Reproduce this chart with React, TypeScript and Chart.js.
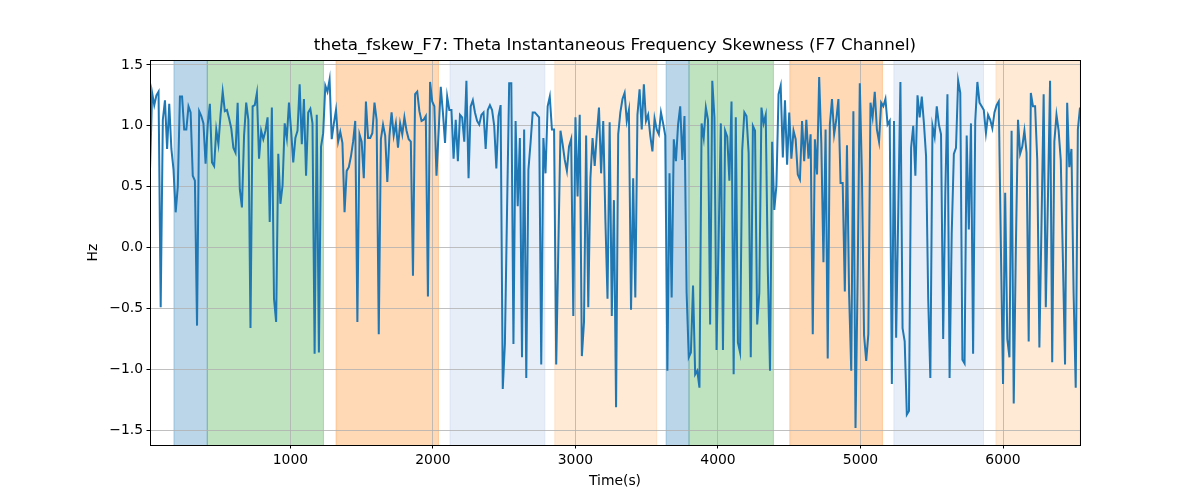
import { useEffect, useRef } from 'react';
import { Chart, registerables } from 'chart.js';

Chart.register(...registerables);

// skewness values, one every 15 s
const START_TIME = 15;
const STEP = 15;

const skewValues = [
  0.64, 1.27, 1.17, 1.25, 1.28, -0.49, 1.05, 1.21, 0.81, 1.18,
  0.81, 0.64, 0.29, 0.5, 1.24, 1.24, 0.97, 0.97, 1.16, 1.11,
  0.59, 0.55, -0.64, 1.12, 1.08, 1.02, 0.69, 1.01, 1.18, 0.7,
  0.67, 0.97, 0.85, 1.09, 1.28, 1.12, 1.13, 1.06, 0.98, 0.82,
  0.78, 1.19, 0.48, 0.33, 0.92, 1.19, 1.05, -0.66, 1.16, 1.17,
  1.27, 0.73, 0.96, 0.89, 0.96, 1.07, 0.21, 1.15, -0.42,
  -0.61, 0.77, 0.36, 0.51, 1.02, 0.9, 1.19, 0.96, 0.7, 0.9,
  0.96, 1.34, 0.85, 1.22, 0.59, 1.11, 1.14, 1.02, -0.87, 1.09,
  -0.86, 0.83, 0.94, 1.33, 1.28, 1.38, 0.89, 1.02, 1.13, 0.87,
  0.95, 0.86, 0.29, 0.63, 0.66, 0.75, 0.87, 1.04, -0.61, 0.93,
  0.87, 0.57, 1.2, 0.9, 0.9, 0.94, 1.19, 1.05, -0.71, 0.89,
  1.01, 0.92, 0.54, 0.92, 1.11, 0.92, 1.02,
  0.82, 1.02, 0.93, 1.07, 0.96, 0.89, 0.87, -0.23, 1.26, 1.28,
  1.12, 1.04, 1.05, 1.08, -0.4, 1.36, 1.2, 1.16, 0.59, 0.95,
  1.32, 1.11, 0.86, 1.24, 1.13, 1.13, 0.73, 1.05, 0.71, 1.09,
  1.07, 0.87, 1.37, 0.57, 1.16, 1.21, 1.11, 1.04, 1.01, 1.09,
  1.11, 0.81, 1.13, 1.17, 1.13, 1.0, 0.65, 1.08, 1.17, -1.16,
  -0.79, 0.3, 1.35, 1.35, -0.79, 1.04,
  0.34, 0.9, -0.9, 0.97, -1.07, 0.64, 0.86, 1.11, 1.11, 1.09,
  1.07, -0.96, 0.9, 0.61, 1.16, 1.24, 0.97, 0.97, -0.96, 0.0,
  0.96, 0.85, 0.72, 0.63, 0.83, 0.89, -0.56, 1.07, 0.42, 1.09,
  -0.89, -0.61, 0.92, -0.49, 0.57, 0.9, 0.67, 0.93, 1.15, 0.61,
  1.04, 0.23, -0.42, 1.03, -0.56, 0.39, -1.31, 0.93, 1.11, 1.22,
  1.27, 1.04, 1.13, -0.51, 0.57, -0.41,
  1.09, 1.3, 0.97, 1.34, 1.04, 1.09, 0.92, 0.79, 1.06, 0.97,
  0.93, 1.11, 1.02, 0.92, -1.01, 0.61, -0.41, 0.89, 0.71, 1.01,
  1.16, 0.72, 1.08, -0.37, -0.9, -0.86, -0.31, -1.04, -1.01, -1.15,
  1.02, 0.9, 1.15, 1.05, -0.63, 1.37, 1.07, -0.84, 0.1, 1.02,
  -0.84, 0.96, 0.91, 0.55, 1.2, -1.04, 1.07, -0.78, -0.86, 0.8,
  1.11, 1.08, 0.78, -0.9, 1.0,
  0.96, -0.63, -0.37, 1.15, 1.02, 1.09, -0.2, -1.01, 0.87, 0.31,
  0.51, 1.26, 1.33, 0.74, 1.21, 0.68, 1.11, 0.73, 0.96, 0.89,
  0.6, 0.56, 1.04, 0.71, 1.05, 0.73, 0.93, -0.71, 0.89, 0.6,
  1.4, 0.86, -0.12, 0.97, -0.91, 1.01, 1.22, 0.93, 1.05, 1.22,
  0.53, 0.53, -0.36, 0.84, -0.38, -1.01, 1.12, -1.48, -0.23, 1.35,
  0.6, -0.72, -0.93, -0.71, 1.19, 1.07,
  1.28, 0.97, 0.87, 1.19, 1.16, 1.22, 1.01, 1.04, -1.12, 1.04,
  -0.74, 0.3, 1.36, -0.66, -0.77, -1.37, -1.34, 0.82, 1.0, 0.59,
  1.25, 1.07, 1.24, 1.02, 0.75, -0.42, -1.07, 1.0, 0.91, 1.16,
  1.01, 0.93, -0.75, 0.45, 1.26, -1.07, 0.12, 0.77, 0.82, 1.37,
  1.27, -0.92, -0.95, 0.92, 0.15, 1.02, -0.87, 1.04, 1.36, 1.19,
  1.16, 1.13, 0.94, 1.09, 1.05, 0.98,
  1.11, 1.17, 1.2, 0.0, -1.12, 0.45, -0.75, -0.9, 0.96, -1.28,
  0.0, 1.05, 0.77, 0.83, 0.96, 0.78, -0.77, 1.27, 1.16, 1.16,
  0.72, -0.82, 0.2, 1.26, -0.49, 0.4, 1.37, -0.94, 0.87, 1.09,
  0.96, 0.72, -0.1, -0.96, 1.19, 0.66, 0.81, -0.37, -1.15, 0.97,
  1.15,
];

const times = skewValues.map((_, i) => START_TIME + i * STEP);

const xTicks = [1000, 2000, 3000, 4000, 5000, 6000];
const yTicks = [-1.5, -1.0, -0.5, 0.0, 0.5, 1.0, 1.5];

// shaded stages
const spanStarts = [183, 417, 1320, 2120, 2855, 3636, 3797, 4504, 5234, 5950];
const spanEnds = [417, 1232, 2039, 2785, 3570, 3797, 4389, 5154, 5863, 6540];
const spanColors = [
  'rgba(31,119,180,0.3)',
  'rgba(44,160,44,0.3)',
  'rgba(255,127,14,0.3)',
  'rgba(174,199,232,0.3)',
  'rgba(255,187,120,0.3)',
  'rgba(31,119,180,0.3)',
  'rgba(44,160,44,0.3)',
  'rgba(255,127,14,0.3)',
  'rgba(174,199,232,0.3)',
  'rgba(255,187,120,0.3)',
];

const FONT = 'DejaVu Sans';

const spanPlugin = {
  id: 'spans',
  afterLayout(chart: any) {
    // centre the title over the plot area, like matplotlib
    if (chart.titleBlock) {
      chart.titleBlock.left = chart.chartArea.left;
      chart.titleBlock.right = chart.chartArea.right;
    }
  },
  beforeDraw(chart: any) {
    const { ctx, chartArea, scales } = chart;
    ctx.save();
    ctx.beginPath();
    ctx.rect(chartArea.left, chartArea.top, chartArea.right - chartArea.left, chartArea.bottom - chartArea.top);
    ctx.clip();
    spanStarts.forEach((s, i) => {
      const x0 = scales.x.getPixelForValue(s);
      const x1 = scales.x.getPixelForValue(spanEnds[i]);
      ctx.fillStyle = spanColors[i];
      ctx.fillRect(x0, chartArea.top, x1 - x0, chartArea.bottom - chartArea.top);
      ctx.strokeStyle = spanColors[i];
      ctx.lineWidth = 1;
      ctx.beginPath();
      ctx.moveTo(x0, chartArea.top);
      ctx.lineTo(x0, chartArea.bottom);
      ctx.moveTo(x1, chartArea.top);
      ctx.lineTo(x1, chartArea.bottom);
      ctx.stroke();
    });
    ctx.restore();
  },
};

const framePlugin = {
  id: 'frame',
  afterDraw(chart: any) {
    const { ctx, chartArea } = chart;
    ctx.save();
    ctx.strokeStyle = '#000';
    ctx.lineWidth = 1;
    ctx.strokeRect(
      Math.round(chartArea.left) + 0.5,
      Math.round(chartArea.top) + 0.5,
      Math.round(chartArea.right - chartArea.left),
      Math.round(chartArea.bottom - chartArea.top)
    );
    ctx.restore();
  },
};

const App = () => {
  const canvasRef = useRef<HTMLCanvasElement>(null);

  useEffect(() => {
    if (!canvasRef.current) return;
    const tickFont = { family: FONT, size: 13.9 };
    const chart = new Chart(canvasRef.current, {
      type: 'line',
      data: {
        datasets: [
          {
            label: 'theta_fskew_F7',
            data: times.map((t, i) => ({ x: t, y: skewValues[i] })),
            borderColor: '#1f77b4',
            borderWidth: 2,
            pointRadius: 0,
            tension: 0,
            fill: false,
          },
        ],
      },
      options: {
        animation: false,
        responsive: true,
        maintainAspectRatio: false,
        devicePixelRatio: 1,
        layout: { padding: { left: 0, right: 120, top: 0, bottom: 0 } },
        plugins: {
          legend: { display: false },
          tooltip: { enabled: false },
          title: {
            display: true,
            text: 'theta_fskew_F7: Theta Instantaneous Frequency Skewness (F7 Channel)',
            color: '#000',
            font: { family: FONT, size: 16.7, weight: 'normal' },
            padding: { top: 36, bottom: 4 },
          },
        },
        scales: {
          x: {
            type: 'linear',
            min: START_TIME,
            max: times[times.length - 1],
            afterFit: (s: any) => {
              s.height = 55;
            },
            afterBuildTicks: (s: any) => {
              s.ticks = xTicks.map((v) => ({ value: v }));
            },
            grid: { color: '#b0b0b0', lineWidth: 0.8, tickColor: '#000', tickLength: 3.5, tickWidth: 1 },
            border: { display: false },
            ticks: {
              color: '#000',
              font: tickFont,
              padding: 3.5,
              maxRotation: 0,
              autoSkip: false,
              callback: (v: any) => String(v),
            },
            title: {
              display: true,
              text: 'Time(s)',
              color: '#000',
              font: tickFont,
              padding: { top: 0, bottom: 10.7 },
            },
          },
          y: {
            type: 'linear',
            min: -1.62,
            max: 1.54,
            afterFit: (s: any) => {
              s.width = 150;
            },
            afterBuildTicks: (s: any) => {
              s.ticks = yTicks.map((v) => ({ value: v }));
            },
            grid: { color: '#b0b0b0', lineWidth: 0.8, tickColor: '#000', tickLength: 3.5, tickWidth: 1 },
            border: { display: false },
            ticks: {
              color: '#000',
              font: tickFont,
              padding: 3.5,
              autoSkip: false,
              callback: (v: any) => {
                const n = Number(v);
                return (n < 0 ? '\u2212' : '') + Math.abs(n).toFixed(1);
              },
            },
            title: {
              display: true,
              text: 'Hz',
              color: '#000',
              font: tickFont,
              padding: { top: 84.7, bottom: 0 },
            },
          },
        },
      },
      plugins: [spanPlugin, framePlugin],
    });

    return () => chart.destroy();
  }, []);

  return (
    <div style={{ position: 'absolute', left: 0, top: 0, width: 1200, height: 500, background: '#fff' }}>
      <canvas ref={canvasRef}></canvas>
    </div>
  );
};

export default App;
